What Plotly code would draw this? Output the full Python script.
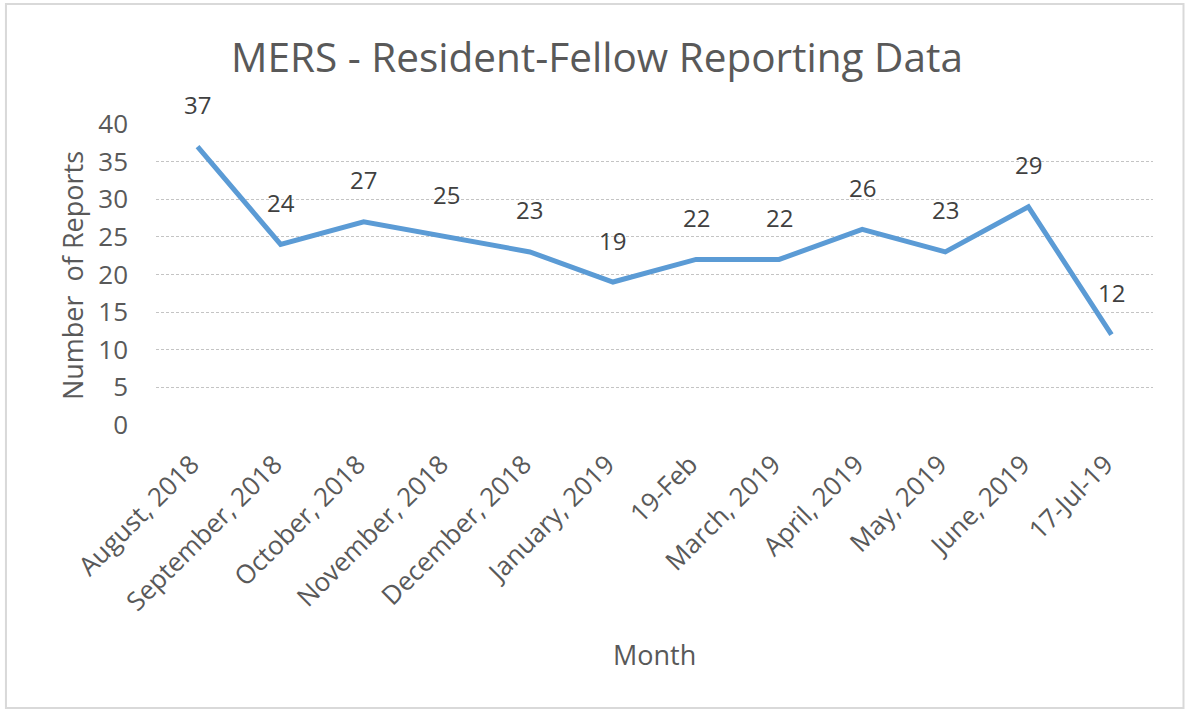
import plotly.graph_objects as go

months = ["August, 2018", "September, 2018", "October, 2018", "November, 2018",
          "December, 2018", "January, 2019", "19-Feb", "March, 2019",
          "April, 2019", "May, 2019", "June, 2019", "17-Jul-19"]
reports = [37, 24, 27, 25, 23, 19, 22, 22, 26, 23, 29, 12]
y_ticks = [0, 5, 10, 15, 20, 25, 30, 35, 40]

FONT = "Open Sans"
GREY = "#595959"

fig = go.Figure()
fig.add_trace(go.Scatter(
    x=months, y=reports, mode="lines",
    line=dict(color="#5B9BD5", width=5),
    hoverinfo="x+y", showlegend=False,
))

annotations = [
    dict(x=m, y=v, xref="x", yref="y", text=str(v), showarrow=False,
         yshift=42, font=dict(family=FONT, size=24, color="#404040"))
    for m, v in zip(months, reports)
]
annotations.append(dict(text="Month", xref="paper", yref="paper",
                        x=0.5005, y=-0.764, xanchor="center", yanchor="middle",
                        showarrow=False,
                        font=dict(family=FONT, size=27, color=GREY)))
annotations.append(dict(text="Number  of Reports", xref="paper", yref="paper",
                        x=-0.0843, y=0.498, xanchor="center", yanchor="middle",
                        showarrow=False, textangle=-90,
                        font=dict(family=FONT, size=27, color=GREY)))

fig.update_layout(
    width=1188, height=711,
    margin=dict(l=156, r=35, t=124, b=286, autoexpand=False),
    paper_bgcolor="white", plot_bgcolor="white",
    title=dict(text="MERS - Resident-Fellow Reporting Data",
               x=0.5025, xanchor="center", y=0.918, yanchor="middle",
               font=dict(family=FONT, size=40.5, color=GREY)),
    annotations=annotations,
    xaxis=dict(type="category", range=[-0.5, len(months) - 0.5],
               showgrid=False, showline=False, zeroline=False,
               tickangle=-45, tickfont=dict(family=FONT, size=26, color=GREY),
               ticks="", ticklabelstandoff=18, ticklabelshift=-6,
               fixedrange=True),
    yaxis=dict(range=[0, 40], tickvals=y_ticks, showgrid=True,
               gridcolor="#C4C4C4", griddash="3px,2px", gridwidth=1,
               zeroline=False, showline=False, ticks="",
               ticklabelstandoff=27,
               tickfont=dict(family=FONT, size=26, color=GREY), fixedrange=True),
    shapes=[dict(type="rect", xref="paper", yref="paper",
                 x0=-0.1505, x1=1.0306, y0=-0.94, y1=1.399,
                 line=dict(color="#D9D9D9", width=2), layer="below")],
)

fig.write_html("out.html", config={"displayModeBar": False},
               post_script="document.body.style.margin='0';")
